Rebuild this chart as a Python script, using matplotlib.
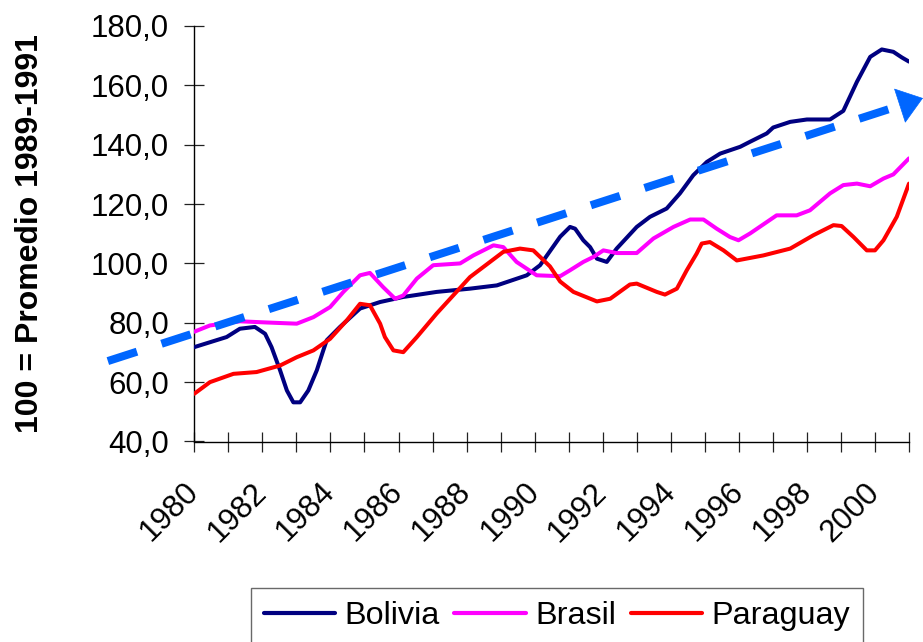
import matplotlib
matplotlib.use("Agg")
import matplotlib.pyplot as plt
from matplotlib.ticker import FuncFormatter, MultipleLocator

plt.rcParams['font.family'] = ['Liberation Sans', 'DejaVu Sans']

# ---------------- data ----------------
bolivia_x = [1980.0, 1980.95, 1981.34, 1981.78, 1982.08, 1982.27, 1982.52, 1982.72,
             1982.91, 1983.11, 1983.35, 1983.60, 1983.79, 1983.89, 1984.28, 1984.87,
             1985.46, 1986.14, 1987.12, 1988.10, 1988.89, 1989.77, 1990.16, 1990.75,
             1991.04, 1991.19, 1991.43, 1991.63, 1991.83, 1992.12, 1992.41, 1993.00,
             1993.39, 1993.88, 1994.27, 1994.66, 1995.06, 1995.45, 1996.04, 1996.33,
             1996.82, 1997.01, 1997.51, 1998.00, 1998.68, 1999.07, 1999.47, 1999.86,
             2000.20, 2000.54, 2000.79, 2001.0]
bolivia_y = [71.8, 75.2, 78.0, 78.6, 76.3, 71.8, 64.0, 57.2,
             53.2, 53.2, 57.2, 64.0, 70.7, 74.1, 78.6, 84.8,
             87.0, 88.7, 90.4, 91.5, 92.6, 96.0, 99.4, 109.0,
             112.3, 111.7, 107.8, 105.5, 101.6, 100.5, 105.0, 112.3,
             115.7, 118.5, 123.6, 129.7, 134.2, 137.0, 139.3, 141.0,
             143.8, 145.8, 147.7, 148.5, 148.5, 151.4, 161.2, 169.6,
             172.1, 171.3, 169.4, 168.0]

brasil_x = [1980.0, 1980.46, 1981.34, 1982.13, 1983.01, 1983.50, 1983.99, 1984.38,
            1984.87, 1985.16, 1985.55, 1985.90, 1986.14, 1986.54, 1987.02, 1987.81,
            1988.20, 1988.79, 1989.08, 1989.47, 1990.06, 1990.75, 1991.04, 1991.43,
            1991.73, 1992.02, 1992.41, 1993.00, 1993.49, 1994.08, 1994.57, 1994.96,
            1995.35, 1995.74, 1995.99, 1996.33, 1997.11, 1997.70, 1998.09, 1998.68,
            1999.07, 1999.47, 1999.86, 2000.25, 2000.54, 2001.0]
brasil_y = [77.0, 79.1, 80.5, 80.1, 79.7, 81.9, 85.3, 90.4,
            96.0, 96.8, 92.0, 88.1, 89.2, 94.9, 99.4, 100.0,
            102.7, 106.1, 105.5, 100.5, 96.0, 95.7, 97.7, 100.5,
            102.2, 104.4, 103.5, 103.5, 108.4, 112.3, 114.8, 114.8,
            111.7, 108.9, 107.8, 110.1, 116.2, 116.2, 117.9, 123.6,
            126.4, 126.9, 126.0, 128.6, 130.0, 135.4]

paraguay_x = [1980.0, 1980.46, 1981.15, 1981.83, 1982.52, 1983.01, 1983.50, 1983.99,
              1984.48, 1984.87, 1985.16, 1985.46, 1985.60, 1985.85, 1986.14, 1986.54,
              1987.12, 1988.10, 1989.08, 1989.57, 1989.96, 1990.45, 1990.75, 1991.14,
              1991.83, 1992.22, 1992.80, 1993.00, 1993.59, 1993.83, 1994.18, 1994.47,
              1994.76, 1994.91, 1995.15, 1995.55, 1995.94, 1996.72, 1997.51, 1998.19,
              1998.78, 1999.02, 1999.37, 1999.76, 2000.00, 2000.25, 2000.64, 2001.0]
paraguay_y = [56.1, 60.0, 62.8, 63.4, 65.6, 68.4, 70.7, 74.6,
              80.8, 86.4, 85.9, 79.7, 75.2, 70.7, 70.1, 75.2,
              83.1, 95.4, 103.9, 105.0, 104.4, 99.0, 93.9, 90.4,
              87.2, 88.1, 92.9, 93.2, 90.4, 89.5, 91.5, 97.7,
              103.3, 106.7, 107.2, 104.4, 101.0, 102.7, 105.0, 109.5,
              112.9, 112.6, 108.9, 104.4, 104.4, 107.8, 115.7, 126.9]

trend_x = [1977.46, 2000.74]
trend_y = [67.1, 153.2]
trend_tip = (2001.41, 155.7)

year_ticks = list(range(1980, 2002))
label_years = list(range(1980, 2001, 2))
label_texts = [str(y) for y in label_years]

series_names = ['Bolivia', 'Brasil', 'Paraguay']
series_colors = ['#000080', '#FF00FF', '#FF0000']
trend_color = '#0066FF'

# ---------------- figure ----------------
W, H = 923, 642
fig = plt.figure(figsize=(W / 100, H / 100), dpi=100)
L, R, T, B = 194.3, 909, 26, 441.5
ax = fig.add_axes([L / W, 1 - B / H, (R - L) / W, (B - T) / H])

for xs, ys, name, c in zip([bolivia_x, brasil_x, paraguay_x],
                           [bolivia_y, brasil_y, paraguay_y],
                           series_names, series_colors):
    ax.plot(xs, ys, color=c, lw=2.9, label=name, solid_joinstyle='round',
            solid_capstyle='round', zorder=3)

# trend arrow (dashed shaft + solid head)
ax.plot(trend_x, trend_y, color=trend_color, lw=5.8, linestyle=(0, (3.8, 3.2)),
        dash_capstyle='butt', clip_on=False, zorder=4)
ax.annotate('', xy=trend_tip, xytext=(trend_x[-1], trend_y[-1]),
            xycoords='data', textcoords='data', annotation_clip=False,
            arrowprops=dict(arrowstyle='-|>,head_length=17,head_width=12.5',
                            mutation_scale=1, color=trend_color, lw=0.5,
                            shrinkA=0, shrinkB=0), zorder=4)

ax.set_xlim(1980, 2001)
ax.set_ylim(40, 180)
ax.yaxis.set_major_locator(MultipleLocator(20))
ax.yaxis.set_major_formatter(FuncFormatter(lambda v, p: f"{v:.1f}".replace('.', ',')))

ax.set_xticks(year_ticks, minor=True)
ax.set_xticks(label_years)
ax.set_xticklabels(label_texts, rotation=45, ha='right', va='center',
                   rotation_mode='anchor')

for s in ['top', 'right']:
    ax.spines[s].set_visible(False)
for s in ['left', 'bottom']:
    ax.spines[s].set_linewidth(1.0)
    ax.spines[s].set_color('black')

ax.tick_params(axis='both', which='both', direction='inout', length=14.4,
               width=0.9, color='#222222')
ax.tick_params(axis='y', labelsize=22.5, pad=11)
ax.tick_params(axis='x', labelsize=22.5, pad=26)

fig.text(30 / W, 1 - 233.5 / H, '100 = Promedio 1989-1991', rotation=90,
         fontsize=23, fontweight='bold', ha='center', va='center')

leg = fig.legend(loc='upper center', bbox_to_anchor=(557 / W, 1 - 588 / H),
                 ncol=3, fontsize=23.3, frameon=True, fancybox=False,
                 handlelength=2.2, handletextpad=0.3, columnspacing=0.45,
                 borderpad=0.4, borderaxespad=0)
leg.get_frame().set_edgecolor('#444444')
leg.get_frame().set_linewidth(1.0)
for h in leg.get_lines():
    h.set_linewidth(3.0)

fig.savefig('out.png', dpi=100)
